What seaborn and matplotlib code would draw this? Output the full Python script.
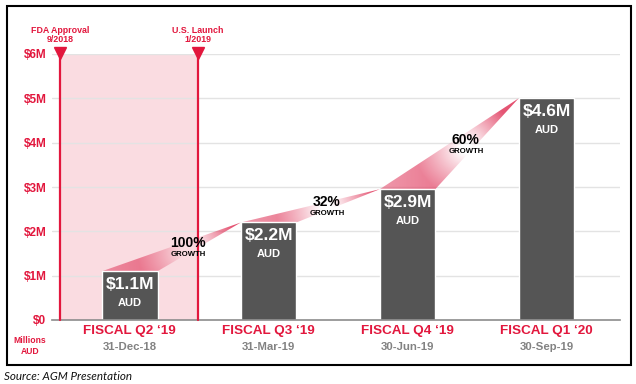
import numpy as np
import pandas as pd
import matplotlib
matplotlib.use("Agg")
import matplotlib.pyplot as plt
from matplotlib.patches import Polygon, Rectangle
from matplotlib.transforms import blended_transform_factory
import seaborn as sns

# ---------------- data ----------------
categories = ["FISCAL Q2 \u201819", "FISCAL Q3 \u201819", "FISCAL Q4 \u201819", "FISCAL Q1 \u201820"]
dates = ["31-Dec-18", "31-Mar-19", "30-Jun-19", "30-Sep-19"]
bar_heights = [1.1, 2.2, 2.95, 5.0]          # drawn heights ($M)
value_labels = ["$1.1M", "$2.2M", "$2.9M", "$4.6M"]
growth_labels = ["100%", "32%", "60%"]
events = ["FDA Approval\n9/2018", "U.S. Launch\n1/2019"]
event_x = [-0.5, 0.49]
y_ticks = [0, 1, 2, 3, 4, 5, 6]
y_tick_labels = ["$0", "$1M", "$2M", "$3M", "$4M", "$5M", "$6M"]

RED = "#E2173D"
GREY_BAR = "#555555"
PINK = "#FADCE1"
FONT = "Liberation Sans"

sns.set_theme(style="white")
plt.rcParams["font.family"] = [FONT, "DejaVu Sans"]

fig = plt.figure(figsize=(6.36, 3.84), dpi=100)
ax = fig.add_axes([52 / 636, 1 - 320 / 384, (620 - 52) / 636, (320 - 54) / 384])

df = pd.DataFrame({"cat": categories, "val": bar_heights})
BAR_W = 0.4
sns.barplot(data=df, x="cat", y="val", color=GREY_BAR, width=BAR_W, saturation=1,
            ax=ax, zorder=3)

# shaded pre-launch region + event lines
ax.axvspan(event_x[0], event_x[1], ymin=0, ymax=1, color=PINK, zorder=0, lw=0)
for ex, lab in zip(event_x, events):
    ax.plot([ex, ex], [0, 6], color=RED, lw=1.6, zorder=5, clip_on=False)
    ax.plot([ex], [6.02], marker="v", color=RED, markersize=8.5, zorder=6, clip_on=False)
    ax.annotate(lab, (ex, 6.0), xytext=(0, 7), textcoords="offset points",
                ha="center", va="bottom", color=RED, fontsize=6.4,
                fontweight="bold", linespacing=1.1, annotation_clip=False)

# gridlines
for yv in y_ticks[1:]:
    ax.axhline(yv, color="#E3E3E3", lw=1.0, zorder=0.5)

# growth ribbons with gradient fading near the label
px_per_x = 139.0
px_per_y = 44.3
base_rgb = np.array([0.89, 0.27, 0.40])
for i, glab in enumerate(growth_labels):
    h0 = bar_heights[i]
    h1 = bar_heights[i + 1]
    p0 = (i - BAR_W / 2, h0)
    p1 = (i + BAR_W / 2, h0)
    p2 = (i + 1 - BAR_W / 2, h1)
    poly = Polygon([p0, p1, p2], closed=True, facecolor="none", edgecolor="none")
    ax.add_patch(poly)
    lx = (i + (i + 1 - BAR_W / 2)) / 2 + 0.02
    ly = (h0 + h1) / 2 - 0.1
    xs = np.linspace(p0[0], p2[0], 300)
    ys = np.linspace(h0, h1, 200)
    X, Y = np.meshgrid(xs, ys)
    d = np.sqrt(((X - lx) * px_per_x) ** 2 + ((Y - ly) * px_per_y) ** 2)
    t = (X - p0[0]) / (p2[0] - p0[0])
    alpha = np.clip((d - 6) / 45, 0, 1) * (0.55 + 0.4 * t)
    rgba = np.zeros(X.shape + (4,))
    rgba[..., :3] = base_rgb
    rgba[..., 3] = alpha
    im = ax.imshow(rgba, extent=[p0[0], p2[0], h0, h1], origin="lower",
                   aspect="auto", zorder=2, interpolation="bilinear")
    im.set_clip_path(poly)
    ax.annotate(glab, (lx, ly), xytext=(0, 1), textcoords="offset points",
                ha="center", va="bottom", fontsize=10, fontweight="bold",
                color="black", zorder=7)
    ax.annotate("GROWTH", (lx, ly), xytext=(0, 0), textcoords="offset points",
                ha="center", va="top", fontsize=5.6, fontweight="bold",
                color="black", zorder=7)

# bar value labels
for i, (h, vl) in enumerate(zip(bar_heights, value_labels)):
    ax.annotate(vl, (i, h), xytext=(0, -4), textcoords="offset points", ha="center",
                va="top", color="white", fontsize=12.5, fontweight="bold", zorder=8)
    ax.annotate("AUD", (i, h), xytext=(0, -19), textcoords="offset points", ha="center",
                va="top", color="white", fontsize=8, fontweight="bold", zorder=8)

# axes styling
ax.set_xlim(-0.56, 3.53)
ax.set_ylim(0, 6)
ax.set_yticks(y_ticks)
ax.set_yticklabels(y_tick_labels, color=RED, fontweight="bold", fontsize=8.5)
ax.tick_params(axis="y", length=0, pad=4)
ax.set_xticks(range(len(categories)))
ax.set_xticklabels([""] * len(categories))
ax.tick_params(axis="x", length=0)
ax.set_xlabel("")
ax.set_ylabel("")
for s in ["top", "right", "left"]:
    ax.spines[s].set_visible(False)
ax.spines["bottom"].set_color("#8C8C8C")
ax.spines["bottom"].set_linewidth(1.2)
ax.spines["bottom"].set_zorder(4)
ax.set_facecolor("white")

# category labels
trans = blended_transform_factory(ax.transData, fig.transFigure)
for i, (c, dt) in enumerate(zip(categories, dates)):
    ax.text(i, 1 - 331 / 384, c, transform=trans, ha="center", va="center",
            color=RED, fontsize=9.7, fontweight="bold")
    ax.text(i, 1 - 347 / 384, dt, transform=trans, ha="center", va="center",
            color="#828282", fontsize=8.2, fontweight="bold")

fig.text(30 / 636, 1 - 346 / 384, "Millions\nAUD", ha="center", va="center", color=RED,
         fontsize=6.2, fontweight="bold", linespacing=1.2)

# outer frame
fig.patches.append(Rectangle((6.5 / 636, 1 - 365 / 384), (630.5 - 6.5) / 636,
                             (365 - 6) / 384, transform=fig.transFigure,
                             fill=False, edgecolor="black", lw=1.5))

fig.text(4 / 636, 1 - 376 / 384, "Source: AGM Presentation", ha="left", va="center",
         fontsize=8.4, style="italic", family=["Lato", "DejaVu Sans"], color="#111111")

fig.savefig("out.png", dpi=100, facecolor="white")
